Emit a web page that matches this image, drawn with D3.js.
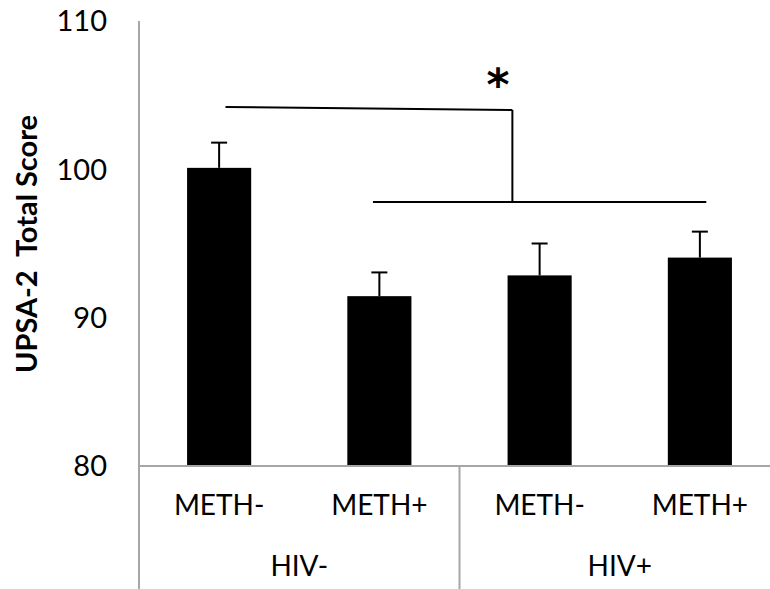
<!DOCTYPE html>
<html>
<head>
<meta charset="utf-8">
<script src="https://cdn.jsdelivr.net/npm/d3@7"></script>
<style>
  body { margin: 0; background: #fff; }
  text { font-family: Lato, "Open Sans", sans-serif; fill: #000; }
</style>
</head>
<body>
<svg width="770" height="589"></svg>
<script>
// data
const groups = ["HIV-", "HIV+"];
const subgroups = ["METH-", "METH+", "METH-", "METH+"];
const means = [100.1, 91.45, 92.85, 94.05];
const errUpper = [101.8, 93.05, 95.0, 95.8];
const yTicks = [80, 90, 100, 110];

// significance bracket, x in category units (0..4), y in score units
const bracketTop = [[0.54, 104.2], [2.33, 104.0]];
const bracketLow = [[1.46, 97.8], [3.54, 97.8]];
const bracketStem = [[2.33, 104.0], [2.33, 97.8]];
const starPos = [2.24, 104.2];

const svg = d3.select("svg");
const axisColor = "#a6a6a6";

const plotLeft = 139, plotRight = 780, plotTop = 21, plotBottom = 466;

const x = d3.scaleBand()
  .domain(d3.range(subgroups.length))
  .range([plotLeft, plotRight])
  .paddingInner(0.6)
  .paddingOuter(0.3);

const catX = d3.scaleLinear().domain([0, subgroups.length]).range([plotLeft, plotRight]);

const y = d3.scaleLinear().domain([80, 110]).range([plotBottom, plotTop]);

// tick labels
svg.append("g")
  .selectAll("text")
  .data(yTicks)
  .join("text")
  .attr("x", 107)
  .attr("y", d => y(d))
  .attr("dy", "0.36em")
  .attr("text-anchor", "end")
  .attr("font-size", 29)
  .text(d => d);

// y axis title
svg.append("text")
  .attr("transform", `translate(37, 244) rotate(-90)`)
  .attr("text-anchor", "middle")
  .attr("font-size", 29)
  .attr("font-weight", "bold")
  .attr("xml:space", "preserve")
  .style("white-space", "pre")
  .text("UPSA-2  Total Score");

// bars
svg.append("g")
  .selectAll("rect")
  .data(means)
  .join("rect")
  .attr("x", (d, i) => x(i))
  .attr("width", x.bandwidth())
  .attr("y", d => y(d))
  .attr("height", d => y(80) - y(d))
  .attr("fill", "#000");

// error bars (upper only)
const errG = svg.append("g").attr("stroke", "#000").attr("stroke-width", 2);
errG.selectAll(".stem")
  .data(errUpper)
  .join("line")
  .attr("class", "stem")
  .attr("x1", (d, i) => x(i) + x.bandwidth() / 2)
  .attr("x2", (d, i) => x(i) + x.bandwidth() / 2)
  .attr("y1", (d, i) => y(means[i]))
  .attr("y2", d => y(d));
errG.selectAll(".cap")
  .data(errUpper)
  .join("line")
  .attr("class", "cap")
  .attr("x1", (d, i) => x(i) + x.bandwidth() / 2 - 8)
  .attr("x2", (d, i) => x(i) + x.bandwidth() / 2 + 8)
  .attr("y1", d => y(d))
  .attr("y2", d => y(d));

// axes lines
const axG = svg.append("g").attr("stroke", axisColor).attr("stroke-width", 2);
axG.append("line")
  .attr("x1", plotLeft).attr("x2", plotLeft)
  .attr("y1", plotTop).attr("y2", 589);
axG.append("line")
  .attr("x1", plotLeft).attr("x2", 770)
  .attr("y1", y(80)).attr("y2", y(80));
axG.selectAll(".div")
  .data(d3.range(1, groups.length + 1))
  .join("line")
  .attr("class", "div")
  .attr("x1", d => catX(d * 2)).attr("x2", d => catX(d * 2))
  .attr("y1", y(80)).attr("y2", 589);

// category labels
svg.append("g")
  .selectAll("text")
  .data(subgroups)
  .join("text")
  .attr("x", (d, i) => x(i) + x.bandwidth() / 2)
  .attr("y", 505)
  .attr("dy", "0.36em")
  .attr("text-anchor", "middle")
  .attr("font-size", 28)
  .text(d => d);

svg.append("g")
  .selectAll("text")
  .data(groups)
  .join("text")
  .attr("x", (d, i) => (x(i * 2) + x(i * 2 + 1) + x.bandwidth()) / 2)
  .attr("y", 566)
  .attr("dy", "0.36em")
  .attr("text-anchor", "middle")
  .attr("font-size", 28)
  .text(d => d);

// significance bracket
const line = d3.line().x(d => catX(d[0])).y(d => y(d[1]));
const brG = svg.append("g").attr("fill", "none").attr("stroke", "#000").attr("stroke-width", 2);
[bracketTop, bracketLow, bracketStem].forEach(seg => {
  brG.append("path").attr("d", line(seg));
});

svg.append("text")
  .attr("x", catX(starPos[0]))
  .attr("y", y(starPos[1]) - 7)
  .attr("text-anchor", "middle")
  .attr("font-size", 44)
  .attr("font-weight", "bold")
  .style("font-family", "'DejaVu Sans', sans-serif")
  .text("*");
</script>
</body>
</html>
